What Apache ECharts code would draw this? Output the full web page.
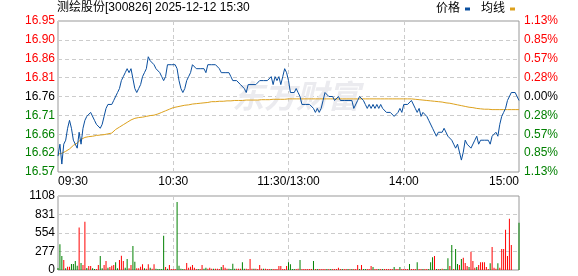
<!DOCTYPE html>
<html><head><meta charset="utf-8">
<script src="https://cdn.jsdelivr.net/npm/echarts@6/dist/echarts.min.js"></script>
<style>html,body{margin:0;padding:0;background:#fff}#c{width:578px;height:276px}</style>
</head><body><div id="c"></div>
<script>
const chartTitle = '测绘股份[300826] 2025-12-12 15:30';
const legendNames = ['价格', '均线'];
const watermark = '东方财富';
const prevClose = 16.76;
const priceMin = 16.57, priceMax = 16.95;
const priceTicks = ['16.57','16.62','16.66','16.71','16.76','16.81','16.86','16.90','16.95'];
const pctTicks = ['1.13%','0.85%','0.57%','0.28%','0.00%','0.28%','0.57%','0.85%','1.13%'];
const volTicks = ['0', '277', '554', '831', '1108'];
const volMax = 1108, volStep = 277;
const timeTickIdx = [0, 60, 120, 180, 240];
const timeTickText = ['09:30', '10:30', '11:30/13:00', '14:00', '15:00'];

// minute prices (09:30-11:30, 13:01-15:00)
const price = [
16.61,16.64,16.59,16.64,16.65,16.68,16.70,16.68,16.65,16.64,
16.63,16.67,16.64,16.68,16.70,16.71,16.71,16.72,16.72,16.70,
16.69,16.69,16.68,16.69,16.71,16.73,16.74,16.74,16.74,16.75,
16.75,16.77,16.78,16.80,16.81,16.82,16.83,16.82,16.83,16.83,
16.78,16.77,16.78,16.79,16.81,16.82,16.83,16.86,16.85,16.85,
16.84,16.83,16.83,16.82,16.81,16.80,16.81,16.84,16.84,16.84,
16.84,16.84,16.83,16.80,16.78,16.77,16.78,16.80,16.81,16.82,
16.84,16.84,16.83,16.83,16.83,16.83,16.83,16.82,16.84,16.84,
16.84,16.84,16.84,16.84,16.83,16.82,16.82,16.82,16.82,16.82,
16.81,16.80,16.80,16.80,16.80,16.79,16.79,16.78,16.77,16.79,
16.79,16.79,16.79,16.79,16.79,16.80,16.80,16.80,16.80,16.80,
16.80,16.81,16.79,16.81,16.80,16.81,16.79,16.81,16.83,16.82,
16.80,
16.77,16.77,16.77,16.78,16.77,16.76,16.74,16.74,16.74,16.74,
16.74,16.74,16.73,16.72,16.73,16.72,16.73,16.75,16.77,16.77,
16.76,16.76,16.76,16.75,16.75,16.76,16.75,16.75,16.75,16.75,
16.75,16.75,16.75,16.73,16.73,16.75,16.76,16.76,16.75,16.74,
16.73,16.74,16.73,16.74,16.73,16.74,16.73,16.74,16.73,16.73,
16.72,16.72,16.72,16.72,16.71,16.71,16.72,16.73,16.72,16.74,
16.74,16.74,16.74,16.75,16.75,16.73,16.72,16.73,16.71,16.72,
16.72,16.71,16.70,16.70,16.68,16.68,16.66,16.67,16.67,16.67,
16.68,16.68,16.66,16.66,16.65,16.64,16.63,16.64,16.64,16.60,
16.62,16.65,16.64,16.64,16.63,16.63,16.65,16.66,16.64,16.65,
16.65,16.65,16.65,16.65,16.64,16.66,16.66,16.67,16.66,16.69,
16.71,16.72,16.73,16.75,16.75,16.77,16.77,16.77,16.77,16.75
];

// minute average price
const avgPrice = [
16.615,16.617,16.617,16.620,16.622,16.625,16.628,16.632,16.637,16.640,
16.643,16.648,16.652,16.656,16.657,16.658,16.659,16.660,16.660,16.661,
16.662,16.662,16.663,16.663,16.664,16.665,16.666,16.667,16.668,16.672,
16.677,16.680,16.683,16.686,16.689,16.692,16.695,16.698,16.701,16.703,
16.705,16.706,16.707,16.707,16.708,16.709,16.710,16.711,16.712,16.712,
16.713,16.715,16.716,16.718,16.720,16.722,16.724,16.726,16.728,16.730,
16.732,16.733,16.734,16.735,16.736,16.737,16.738,16.739,16.739,16.740,
16.741,16.742,16.742,16.743,16.743,16.744,16.744,16.745,16.745,16.746,
16.747,16.747,16.747,16.748,16.748,16.748,16.748,16.749,16.749,16.749,
16.749,16.749,16.750,16.750,16.750,16.750,16.750,16.750,16.751,16.751,
16.751,16.751,16.751,16.751,16.751,16.752,16.752,16.752,16.752,16.752,
16.752,16.752,16.753,16.753,16.753,16.753,16.753,16.753,16.753,16.754,
16.754,
16.754,16.754,16.754,16.754,16.754,16.754,16.754,16.754,16.754,16.754,
16.754,16.754,16.754,16.754,16.754,16.754,16.754,16.754,16.754,16.754,
16.754,16.754,16.754,16.754,16.754,16.754,16.754,16.754,16.754,16.754,
16.754,16.754,16.754,16.754,16.754,16.754,16.754,16.754,16.754,16.754,
16.754,16.754,16.754,16.754,16.754,16.754,16.754,16.754,16.754,16.754,
16.754,16.754,16.754,16.754,16.754,16.754,16.754,16.754,16.754,16.754,
16.754,16.754,16.754,16.754,16.754,16.753,16.753,16.752,16.752,16.751,
16.751,16.750,16.750,16.749,16.749,16.748,16.748,16.747,16.747,16.746,
16.745,16.744,16.744,16.743,16.742,16.741,16.740,16.739,16.738,16.737,
16.736,16.735,16.734,16.733,16.733,16.732,16.731,16.730,16.730,16.729,
16.729,16.728,16.728,16.728,16.727,16.727,16.727,16.727,16.727,16.727,
16.727,16.727,16.727,16.727,16.727,16.727,16.727,16.727,16.727,16.727
];

// minute volume
const volume = [
30,386,210,150,25,50,50,90,90,135,
65,636,105,75,721,30,60,60,25,15,
15,75,210,25,75,135,35,45,65,75,
115,25,150,215,135,35,165,25,75,360,
125,25,25,50,85,25,20,85,35,20,
85,20,15,15,15,511,45,20,75,15,
15,15,1017,65,20,15,15,105,35,50,
75,35,15,15,15,75,20,35,20,35,
20,20,20,20,15,45,75,35,20,20,
15,95,20,20,20,20,115,20,20,15,
165,20,20,20,15,75,20,20,20,15,
15,15,15,15,15,60,60,15,15,60,
115,
85,15,15,15,20,150,15,15,15,15,
15,15,135,15,15,15,15,15,15,15,
15,15,15,15,15,35,15,15,15,15,
15,15,15,15,15,75,15,75,15,15,
15,15,60,45,15,15,15,15,15,15,
15,15,15,15,45,15,15,45,15,15,
15,15,90,15,15,15,115,15,15,15,
15,15,15,115,190,210,15,15,15,20,
15,15,175,60,376,15,316,90,75,165,
185,105,60,45,275,135,35,45,75,115,
115,115,45,15,100,346,35,20,100,35,
316,316,601,210,767,376,0,0,0,707
];
// R = up (red), G = down (green), one letter per minute
const volumeDir = (
'GGGRGRRGGG' + 'GRGRRGRRGG' + 'RRGGRRGRRR' + 'GGRRRGGRRG' + 'GRRRRGRRGR' + 'RGGGGGRGRR' +
'RRGGGGRRRR' + 'RRRGRRGGRR' + 'RGRRRGRRRG' + 'GGGRRRGGRR' + 'RRGRRRRGRR' + 'RGRRRRRRRR' +
'G' +
'GGGRRGRRRR' + 'RRGRGRRRRG' + 'RGRRRRRGRR' + 'GRGRRRGRGG' + 'RRRGRRGRGR' + 'RRRRGRRGRR' +
'RRGRRRGRRG' + 'RRGGGRGRGR' + 'GGGRGRGGRG' + 'RRRGRRRGRR' + 'RRRRGRRRGR' + 'RRRRRRRRRG'
).split('');

const UP = '#ff0000', DOWN = '#008000', FLAT = '#000000';
const FONT = "'Liberation Sans','Noto Sans CJK SC',sans-serif";

const cats = [];
for (let m = 9 * 60 + 30; m <= 11 * 60 + 30; m++) cats.push(String(Math.floor(m / 60)).padStart(2, '0') + ':' + String(m % 60).padStart(2, '0'));
for (let m = 13 * 60 + 1; m <= 15 * 60; m++) cats.push(String(Math.floor(m / 60)).padStart(2, '0') + ':' + String(m % 60).padStart(2, '0'));

const tickColor = (v) => { const n = Number(v); return n > 4 ? UP : (n < 4 ? DOWN : FLAT); };
const dashed = { show: true, lineStyle: { color: '#cccccc', type: [4, 3], width: 1 } };
const innerSplit = (i) => i === 60 || i === 120 || i === 180;

const chart = echarts.init(document.getElementById('c'), null, { renderer: 'canvas' });
chart.setOption({
  animation: false,
  backgroundColor: '#ffffff',
  textStyle: { fontFamily: FONT },
  title: { text: chartTitle, left: 57, top: 2, padding: 0,
    textStyle: { fontSize: 12, fontWeight: 'normal', color: '#000', fontFamily: FONT } },
  legend: {
    data: [{ name: legendNames[0], icon: 'rect' }, { name: legendNames[1], icon: 'rect' }],
    align: 'right', right: 63, top: 3, padding: 0, itemWidth: 5, itemHeight: 3, itemGap: 11,
    selectedMode: false, textStyle: { fontSize: 12, color: '#000', fontFamily: FONT, padding: [0, 0, 0, 0] }
  },
  graphic: [{
    type: 'text', left: 232, top: 80, z: 1, silent: true,
    style: { text: watermark, font: "italic bold 32px 'Noto Sans CJK SC'", fill: '#ebebef' }
  }],
  grid: [
    { left: 58, top: 21, width: 461, height: 151, show: true, borderColor: '#999', borderWidth: 1, backgroundColor: 'transparent' },
    { left: 58, top: 196, width: 461, height: 74, show: true, borderColor: '#999', borderWidth: 1, backgroundColor: 'transparent' }
  ],
  xAxis: [
    { type: 'category', gridIndex: 0, data: cats, boundaryGap: false,
      axisLine: { show: false }, axisTick: { show: false },
      axisLabel: { interval: (i) => timeTickIdx.indexOf(i) >= 0,
        formatter: (v, i) => timeTickText[timeTickIdx.indexOf(i)],
        fontSize: 12, color: '#000', margin: 4, fontFamily: FONT,
        showMinLabel: true, showMaxLabel: true, alignMinLabel: 'left', alignMaxLabel: 'right', hideOverlap: false },
      splitLine: Object.assign({ interval: innerSplit }, dashed) },
    { type: 'category', gridIndex: 1, data: cats, boundaryGap: false,
      axisLine: { show: false }, axisTick: { show: false }, axisLabel: { show: false },
      splitLine: Object.assign({ interval: innerSplit }, dashed) }
  ],
  yAxis: [
    { type: 'value', gridIndex: 0, min: priceMin, max: priceMax, show: false, splitLine: { show: false } },
    { type: 'value', gridIndex: 0, min: 0, max: 8, interval: 1, position: 'left',
      axisLine: { show: false }, axisTick: { show: false },
      axisLabel: { formatter: (v) => priceTicks[v], color: tickColor, fontSize: 12, margin: 3, fontFamily: FONT },
      splitLine: dashed },
    { type: 'value', gridIndex: 0, min: 0, max: 8, interval: 1, position: 'right',
      axisLine: { show: false }, axisTick: { show: false },
      axisLabel: { formatter: (v) => pctTicks[v], color: tickColor, fontSize: 12, margin: 5, fontFamily: FONT },
      splitLine: { show: false } },
    { type: 'value', gridIndex: 1, min: 0, max: volMax, interval: volStep, position: 'left',
      axisLine: { show: false }, axisTick: { show: false },
      axisLabel: { formatter: (v) => volTicks[Math.round(v / volStep)], color: '#000', fontSize: 12, margin: 3, fontFamily: FONT },
      splitLine: dashed }
  ],
  series: [
    { name: legendNames[0], type: 'line', xAxisIndex: 0, yAxisIndex: 0, data: price,
      showSymbol: false, symbol: 'none', z: 4, color: '#0a4f9f', lineStyle: { width: 1, color: '#0a4f9f' } },
    { name: legendNames[1], type: 'line', xAxisIndex: 0, yAxisIndex: 0, data: avgPrice,
      showSymbol: false, symbol: 'none', z: 3, color: '#dda11c', lineStyle: { width: 1, color: '#dda11c' } },
    { name: 'vol', type: 'bar', xAxisIndex: 1, yAxisIndex: 3, barWidth: 1,
      data: volume.map((v, i) => ({ value: v, itemStyle: { color: volumeDir[i] === 'R' ? UP : DOWN } })) }
  ]
});
</script>
</body></html>
